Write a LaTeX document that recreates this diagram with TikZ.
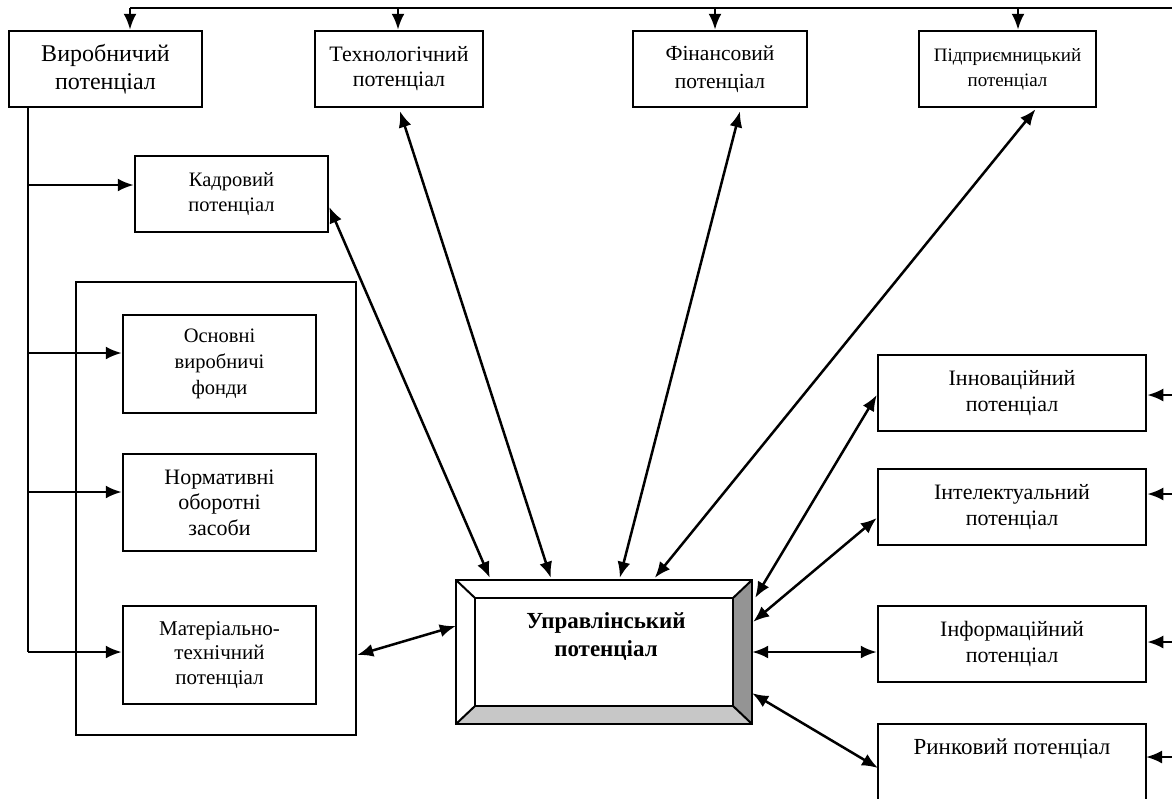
\documentclass[tikz,border=0pt]{standalone}
\usepackage{fontspec}
\setmainfont{Liberation Serif}
\usetikzlibrary{arrows.meta,calc}
\begin{document}
\begin{tikzpicture}[x=1pt,y=-1pt,
  box/.style={draw,line width=2.5pt,rectangle,align=center,inner sep=0pt},
  ln/.style={line width=2.5pt},
  arr/.style={line width=2.5pt,-{Latex[length=16pt,width=13pt]}},
  darr/.style={line width=2.5pt,{Latex[length=16pt,width=13pt]}-{Latex[length=16pt,width=13pt]}},
  fVyr/.style={font=\fontsize{24}{28}\selectfont},
  fTech/.style={font=\fontsize{22}{25}\selectfont},
  fFin/.style={font=\fontsize{21.5}{28}\selectfont},
  fPid/.style={font=\fontsize{19}{25}\selectfont},
  fKad/.style={font=\fontsize{20.5}{25}\selectfont},
  fOsn/.style={font=\fontsize{20.5}{26}\selectfont},
  fNorm/.style={font=\fontsize{22}{25.5}\selectfont},
  fMat/.style={font=\fontsize{21}{24.5}\selectfont},
  fR/.style={font=\fontsize{22}{26}\selectfont},
  fRyn/.style={font=\fontsize{23}{26}\selectfont}
]
\useasboundingbox (0,0) rectangle (1172,798);
\fill[white] (0,0) rectangle (1172,798);

% top row
\node[box,fVyr,minimum width=193,minimum height=76] (vyr) at (105.5,69) {Виробничий\\потенціал};
\node[box,fTech,minimum width=168,minimum height=76] (tech) at (399,69) {Технологічний\\потенціал};
\node[box,fFin,minimum width=174,minimum height=76] (fin) at (720,69) {Фінансовий\\потенціал};
\node[box,fPid,minimum width=177,minimum height=76] (pidp) at (1007.5,69) {Підприємницький\\потенціал};

\coordinate (t1) at (130,8);
\coordinate (t2) at (398,8);
\coordinate (t3) at (715,8);
\coordinate (t4) at (1018,8);
\coordinate (tr) at (1172,8);
\draw[ln] (t1) -- (tr);
\draw[arr] (t1) -- (t1 |- vyr.north);
\draw[arr] (t2) -- (t2 |- tech.north);
\draw[arr] (t3) -- (t3 |- fin.north);
\draw[arr] (t4) -- (t4 |- pidp.north);

% left column
\node[box,fKad,minimum width=193,minimum height=76] (kadr) at (231.5,194) {Кадровий\\потенціал};
\node[draw,line width=2.5pt,rectangle,minimum width=280,minimum height=453,inner sep=0pt] (grp) at (216,508.5) {};
\node[box,fOsn,minimum width=193,minimum height=98] (osn) at (219.5,364) {Основні\\виробничі\\фонди};
\node[box,fNorm,minimum width=193,minimum height=97] (norm) at (219.5,502.5) {Нормативні\\оборотні\\засоби};
\node[box,fMat,minimum width=193,minimum height=98] (mat) at (219.5,655) {Матеріально-\\технічний\\потенціал};

\coordinate (lv) at (28,107);
\coordinate (lb) at (28,652);
\draw[ln] (lv) -- (lb);
\draw[arr] (28,185) -- (kadr.west |- 0,185);
\draw[arr] (28,353) -- (osn.west |- 0,353);
\draw[arr] (28,492) -- (norm.west |- 0,492);
\draw[arr] (lb) -- (mat.west |- lb);

% central bevel box
\node[rectangle,minimum width=296,minimum height=144,inner sep=0pt] (upr) at (604,652) {};
\fill[white] (456,580) -- (752,580) -- (733,598) -- (475,598) -- cycle;
\fill[white] (456,580) -- (475,598) -- (475,706) -- (456,724) -- cycle;
\fill[black!42] (752,580) -- (752,724) -- (733,706) -- (733,598) -- cycle;
\fill[black!22] (456,724) -- (752,724) -- (733,706) -- (475,706) -- cycle;
\draw[line width=2.5pt] (456,580) rectangle (752,724);
\draw[line width=2pt] (475,598) rectangle (733,706);
\draw[line width=2pt] (456,580) -- (475,598) (752,580) -- (733,598) (456,724) -- (475,706) (752,724) -- (733,706);
\node[font=\fontsize{23}{28}\selectfont\bfseries,align=center] (uprt) at (606,637) {Управлінський\\потенціал};

% right column
\node[box,fR,minimum width=268,minimum height=76] (innov) at (1012,393) {Інноваційний\\потенціал};
\node[box,fR,minimum width=268,minimum height=76] (intel) at (1012,507) {Інтелектуальний\\потенціал};
\node[box,fR,minimum width=268,minimum height=76] (inform) at (1012,644) {Інформаційний\\потенціал};
\draw[line width=2.5pt] (1146,800) -- (1146,724) -- (878,724) -- (878,800);
\coordinate (rynw) at (878,768);
\node[fRyn,anchor=center] (ryn) at (1012,749) {Ринковий потенціал};

\coordinate (r1) at (1172,395);
\coordinate (r2) at (1172,494);
\coordinate (r3) at (1172,642);
\coordinate (r4) at (1172,757);
\draw[arr] (r1) -- (innov.east |- r1);
\draw[arr] (r2) -- (intel.east |- r2);
\draw[arr] (r3) -- (inform.east |- r3);
\draw[arr] (r4) -- (1146,757);

% connectors to central
\draw[darr] ($(kadr.east)+(0,13)$) -- ($(upr.north west)+(34,-2)$);
\draw[darr] ($(tech.south)+(1,3)$) -- ($(upr.north west)+(95,-2)$);
\draw[darr] ($(fin.south)+(20,3)$) -- ($(upr.north west)+(164,-2)$);
\draw[darr] ($(pidp.south)+(28,1)$) -- ($(upr.north west)+(199,-2)$);
\draw[darr] ($(innov.west)+(0,2)$) -- ($(upr.north east)+(3,18)$);
\draw[darr] ($(intel.west)+(0,11)$) -- ($(upr.north east)+(1,42)$);
\draw[darr] (inform.west |- 0,652) -- (upr.east |- 0,652);
\draw[darr] (rynw) -- ($(upr.south east)+(0,-31)$);
\draw[darr] (mat.east -| grp.east) -- ($(upr.west)+(0,-26)$);
\end{tikzpicture}
\end{document}
